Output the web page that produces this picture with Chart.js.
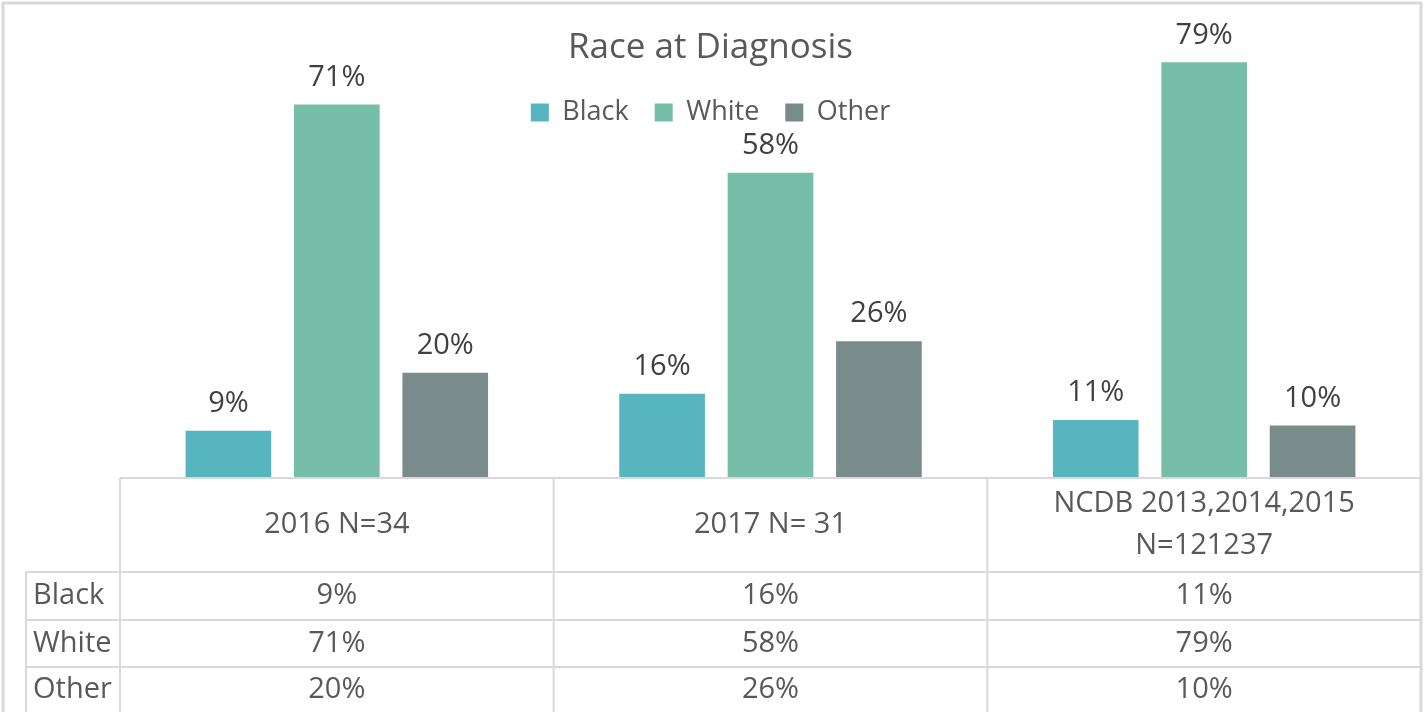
<!DOCTYPE html>
<html>
<head>
<meta charset="utf-8">
<script src="https://cdn.jsdelivr.net/npm/chart.js@4"></script>
<style>
  html, body { margin: 0; padding: 0; background: #fff; }
  #wrap { width: 1424px; height: 712px; }
</style>
</head>
<body>
<div id="wrap"><canvas id="chart0"></canvas></div>
<script>
// chart data
const chartTitle = "Race at Diagnosis";
const groups = ["2016 N=34", "2017 N= 31", ["NCDB 2013,2014,2015", "N=121237"]];
const races = ["Black", "White", "Other"];
const blackVals = [9, 16, 11];
const whiteVals = [71, 58, 79];
const otherVals = [20, 26, 10];

const raceColors = ["#57b5bf", "#76bea7", "#7a8b8c"];
const gridCol = "#d9d9d9";
const textCol = "#595959";
const font = "'Open Sans', sans-serif";

// table layout (pixels)
const tableRows = [572, 620, 667, 712];  // bottom edge of header row, then each data row
const labelColLeft = 26;

// value labels above the bars
const barLabels = {
  id: "barLabels",
  afterDatasetsDraw(chart) {
    const ctx = chart.ctx;
    ctx.save();
    ctx.font = "29px " + font;
    ctx.fillStyle = "#404040";
    ctx.textAlign = "center";
    ctx.textBaseline = "middle";
    chart.data.datasets.forEach((ds, i) => {
      chart.getDatasetMeta(i).data.forEach((bar, j) => {
        ctx.fillText(ds.data[j] + "%", bar.x, bar.y - 27);
      });
    });
    ctx.restore();
  }
};

// outer frame + data table under the x axis
const dataTable = {
  id: "dataTable",
  beforeDraw(chart) {
    const ctx = chart.ctx;
    ctx.save();
    ctx.strokeStyle = gridCol;
    ctx.lineWidth = 3;
    ctx.strokeRect(3, 3, chart.width - 6, chart.height + 10);
    ctx.restore();
  },
  afterDraw(chart) {
    const ctx = chart.ctx;
    const area = chart.chartArea;
    const xs = chart.scales.x;
    const colW = xs.width / groups.length;
    ctx.save();
    ctx.strokeStyle = gridCol;
    ctx.lineWidth = 2;

    ctx.beginPath();
    // axis / table top
    ctx.moveTo(area.left, area.bottom);
    ctx.lineTo(area.right, area.bottom);
    // row lines
    tableRows.slice(0, 3).forEach(y => {
      ctx.moveTo(labelColLeft, y);
      ctx.lineTo(area.right, y);
    });
    // column lines
    for (let i = 0; i <= groups.length; i++) {
      const x = i < groups.length ? xs.getPixelForValue(i) - colW / 2 : area.right;
      ctx.moveTo(x, area.bottom);
      ctx.lineTo(x, chart.height);
    }
    ctx.moveTo(labelColLeft, tableRows[0]);
    ctx.lineTo(labelColLeft, chart.height);
    ctx.stroke();

    ctx.fillStyle = textCol;
    ctx.font = "29px " + font;
    ctx.textBaseline = "middle";
    ctx.textAlign = "center";

    // header cells
    const headMid = (area.bottom + tableRows[0]) / 2;
    groups.forEach((g, i) => {
      const x = xs.getPixelForValue(i);
      const lines = Array.isArray(g) ? g : [g];
      const lh = 42;
      lines.forEach((t, k) => {
        ctx.fillText(t, x, headMid + (k - (lines.length - 1) / 2) * lh);
      });
    });

    // data rows
    const rows = [blackVals, whiteVals, otherVals];
    rows.forEach((vals, r) => {
      const y = (tableRows[r] + tableRows[r + 1]) / 2;
      ctx.textAlign = "left";
      ctx.fillText(races[r], labelColLeft + 7, y);
      ctx.textAlign = "center";
      vals.forEach((v, i) => {
        ctx.fillText(v + "%", xs.getPixelForValue(i), y);
      });
    });
    ctx.restore();
  }
};

const ctx = document.getElementById("chart0").getContext("2d");
new Chart(ctx, {
  type: "bar",
  data: {
    labels: groups,
    datasets: [
      { label: races[0], data: blackVals, backgroundColor: raceColors[0] },
      { label: races[1], data: whiteVals, backgroundColor: raceColors[1] },
      { label: races[2], data: otherVals, backgroundColor: raceColors[2] }
    ]
  },
  options: {
    responsive: true,
    maintainAspectRatio: false,
    animation: false,
    layout: { padding: { left: 0, right: 3, top: 0, bottom: 234 } },
    datasets: {
      bar: { categoryPercentage: 0.75, barPercentage: 0.79, borderWidth: 0, clip: false }
    },
    scales: {
      x: { display: false },
      y: {
        min: 0,
        max: 65,
        ticks: { display: false },
        grid: { display: false },
        border: { display: false },
        afterFit(scale) { scale.width = 120; }
      }
    },
    plugins: {
      title: {
        display: true,
        text: chartTitle,
        color: textCol,
        font: { family: font, size: 35, weight: "normal" },
        padding: { top: 27, bottom: 4 }
      },
      legend: {
        position: "top",
        labels: {
          color: textCol,
          font: { family: font, size: 27 },
          boxWidth: 18,
          boxHeight: 18,
          padding: 26
        }
      },
      tooltip: { enabled: false }
    }
  },
  plugins: [barLabels, dataTable]
});
</script>
</body>
</html>
